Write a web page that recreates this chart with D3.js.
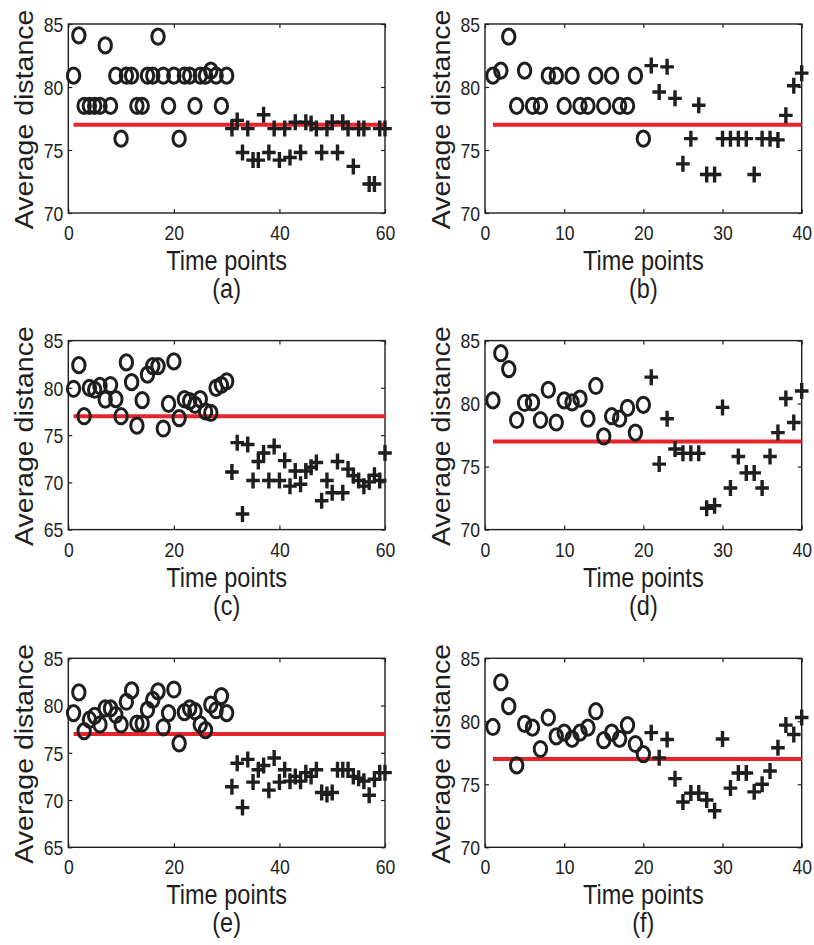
<!DOCTYPE html>
<html>
<head>
<meta charset="utf-8">
<script src="https://cdn.jsdelivr.net/npm/d3@7"></script>
<style>
  body { margin: 0; background: #fff; }
  text { font-family: "Liberation Sans", Arial, sans-serif; fill: #1e1e1e; }
</style>
</head>
<body>
<svg id="fig" width="814" height="945"></svg>
<script>
// Reference level drawn as a red line in every panel
const threshold = 77;

// Average distance per time point; circles come first, crosses follow
const circlesA = [80.9,84.1,78.5,78.5,78.5,78.5,83.3,78.5,80.9,75.9,80.9,80.9,78.5,78.5,80.9,80.9,84.0,80.9,78.5,80.9,75.9,80.9,80.9,78.5,80.9,80.9,81.3,80.9,78.5,80.9];
const plusA    = [76.7,77.35,74.8,76.7,74.2,74.2,77.8,74.8,76.7,74.2,76.7,74.4,77.2,74.8,77.2,77.1,76.7,74.8,76.7,77.2,74.8,77.2,76.7,73.7,76.7,76.7,72.3,72.3,76.7,76.7];

const circlesB = [80.9,81.3,84.0,78.5,81.3,78.5,78.5,80.9,80.9,78.5,80.9,78.5,78.5,80.9,78.5,80.9,78.5,78.5,80.9,75.9];
const plusB    = [81.7,79.6,81.6,79.1,73.9,75.9,78.55,73.05,73.05,75.9,75.9,75.9,75.9,73.05,75.9,75.9,75.8,77.75,80.1,81.1];

const circlesC = [79.9,82.4,77.0,80.0,79.8,80.2,78.75,80.3,78.8,77.0,82.7,80.6,76.0,78.7,81.4,82.3,82.3,75.7,78.3,82.8,76.8,78.8,78.6,78.2,78.8,77.5,77.35,80.0,80.3,80.7];
const plusC    = [71.1,74.2,66.65,74.0,70.2,72.2,73.1,70.2,73.8,70.2,72.3,69.6,71.2,69.8,71.2,71.6,72.1,68.05,70.2,68.9,72.2,68.9,71.4,70.7,70.2,69.6,70.05,70.75,70.2,73.1];

const circlesD = [80.26,84.0,82.74,78.7,80.05,80.1,78.7,81.1,78.5,80.26,80.1,80.4,78.8,81.4,77.4,79.0,78.8,79.66,77.7,79.9];
const plusD    = [82.1,75.2,78.8,76.4,76.05,76.05,76.05,71.7,71.9,79.7,73.3,75.8,74.5,74.5,73.3,75.8,77.7,80.4,78.5,81.0];

const circlesE = [79.2,81.4,77.3,78.5,78.9,78.0,79.7,79.7,79.0,78.0,80.4,81.6,78.1,78.1,79.55,80.6,81.5,77.7,79.2,81.7,76.0,79.3,79.7,79.4,78.0,77.4,80.1,79.5,81.0,79.2];
const plusE    = [71.4,73.9,69.2,74.3,71.9,73.2,73.65,71.05,74.45,71.9,73.2,72.0,72.5,72.0,72.9,72.5,73.2,70.8,70.6,70.8,73.2,73.2,73.2,72.5,72.3,72.0,70.5,72.2,72.9,72.9];

const circlesF = [79.55,83.1,81.2,76.5,79.8,79.5,77.8,80.3,78.8,79.1,78.6,79.1,79.5,80.8,78.5,79.1,78.6,79.7,78.2,77.4];
const plusF    = [79.1,77.1,78.55,75.45,73.6,74.3,74.3,73.75,72.9,78.6,74.7,75.9,75.9,74.4,75.0,76.05,77.9,79.7,78.95,80.3];

// Tick values and captions
const xTicks60 = [0, 20, 40, 60];
const xTicks40 = [0, 10, 20, 30, 40];
const yTicks70 = [70, 75, 80, 85];
const yTicks65 = [65, 70, 75, 80, 85];
const captions = ["(a)", "(b)", "(c)", "(d)", "(e)", "(f)"];
const xTitle = "Time points";
const yTitle = "Average distance";

const panels = [
  { circles: circlesA, plus: plusA, xMax: 60, xTicks: xTicks60, yTicks: yTicks70 },
  { circles: circlesB, plus: plusB, xMax: 40, xTicks: xTicks40, yTicks: yTicks70 },
  { circles: circlesC, plus: plusC, xMax: 60, xTicks: xTicks60, yTicks: yTicks65 },
  { circles: circlesD, plus: plusD, xMax: 40, xTicks: xTicks40, yTicks: yTicks70 },
  { circles: circlesE, plus: plusE, xMax: 60, xTicks: xTicks60, yTicks: yTicks65 },
  { circles: circlesF, plus: plusF, xMax: 40, xTicks: xTicks40, yTicks: yTicks70 }
];

// Layout
const colLeft = [68.3, 485];
const rowTop = [24, 340.6, 658.3];
const plotW = 316.7, plotH = 189;
const ink = "#1e1e1e";
const squeeze = 0.84;        // narrow lettering (horizontal)
const tickSqueeze = 0.88;

const svg = d3.select("#fig");
svg.append("rect").attr("width", 814).attr("height", 945).attr("fill", "#fff");

panels.forEach((p, i) => {
  const left = colLeft[i % 2];
  const top = rowTop[Math.floor(i / 2)];
  const g = svg.append("g").attr("transform", `translate(${left},${top})`);

  const x = d3.scaleLinear().domain([0, p.xMax]).range([0, plotW]);
  const yDomain = d3.extent(p.yTicks);
  const y = d3.scaleLinear().domain(yDomain).range([plotH, 0]);

  // axes with inward ticks on all four sides
  const bottom = g.append("g").attr("transform", `translate(0,${plotH})`)
    .call(d3.axisBottom(x).tickValues(p.xTicks).tickSizeInner(-4).tickSizeOuter(0));
  const leftAx = g.append("g")
    .call(d3.axisLeft(y).tickValues(p.yTicks).tickSizeInner(-4).tickSizeOuter(0));
  g.append("g").call(d3.axisTop(x).tickValues(p.xTicks).tickSizeInner(-4).tickSizeOuter(0).tickFormat(""));
  g.append("g").attr("transform", `translate(${plotW},0)`)
    .call(d3.axisRight(y).tickValues(p.yTicks).tickSizeInner(-4).tickSizeOuter(0).tickFormat(""));

  g.selectAll(".domain").remove();
  g.selectAll(".tick line").attr("stroke", ink).attr("stroke-width", 1.2);

  bottom.selectAll(".tick text")
    .attr("y", 0).attr("dy", null)
    .attr("transform", `translate(0,27) scale(${tickSqueeze},1)`)
    .style("font-size", "20px").attr("fill", ink);
  leftAx.selectAll(".tick text")
    .attr("x", 0).attr("dy", "0.36em")
    .attr("transform", `translate(-5,0) scale(${tickSqueeze},1)`)
    .style("font-size", "20px").attr("fill", ink);

  g.append("rect").attr("width", plotW).attr("height", plotH)
    .attr("fill", "none").attr("stroke", ink).attr("stroke-width", 1.4);

  // reference line from the first to the last time point
  g.append("line")
    .attr("x1", x(1)).attr("x2", x(p.xMax))
    .attr("y1", y(threshold)).attr("y2", y(threshold))
    .attr("stroke", "#e8232a").attr("stroke-width", 4);

  // circle markers
  g.append("g").selectAll("ellipse").data(p.circles).join("ellipse")
    .attr("cx", (d, k) => x(k + 1)).attr("cy", d => y(d))
    .attr("rx", 6.2).attr("ry", 7.6)
    .attr("fill", "none").attr("stroke", ink).attr("stroke-width", 3);

  // cross markers
  const n0 = p.circles.length;
  g.append("g").selectAll("path").data(p.plus).join("path")
    .attr("transform", (d, k) => `translate(${x(n0 + k + 1)},${y(d)})`)
    .attr("d", "M-6.8,0H6.8M0,-8V8")
    .attr("fill", "none").attr("stroke", ink).attr("stroke-width", 3.4);

  // titles and caption
  g.append("text")
    .attr("transform", `translate(${plotW / 2},${plotH + 57}) scale(${squeeze},1)`)
    .attr("text-anchor", "middle").style("font-size", "28px").text(xTitle);
  g.append("text")
    .attr("transform", `translate(${plotW / 2},${plotH + 85}) scale(${squeeze},1)`)
    .attr("text-anchor", "middle").style("font-size", "28px").text(captions[i]);
  // rotated title: its glyph height runs horizontally, so that is the squeezed direction
  g.append("text")
    .attr("transform", `translate(-35,${plotH / 2 + 1}) rotate(-90) scale(1,0.9)`)
    .attr("text-anchor", "middle").style("font-size", "28.5px").text(yTitle);
});
</script>
</body>
</html>
